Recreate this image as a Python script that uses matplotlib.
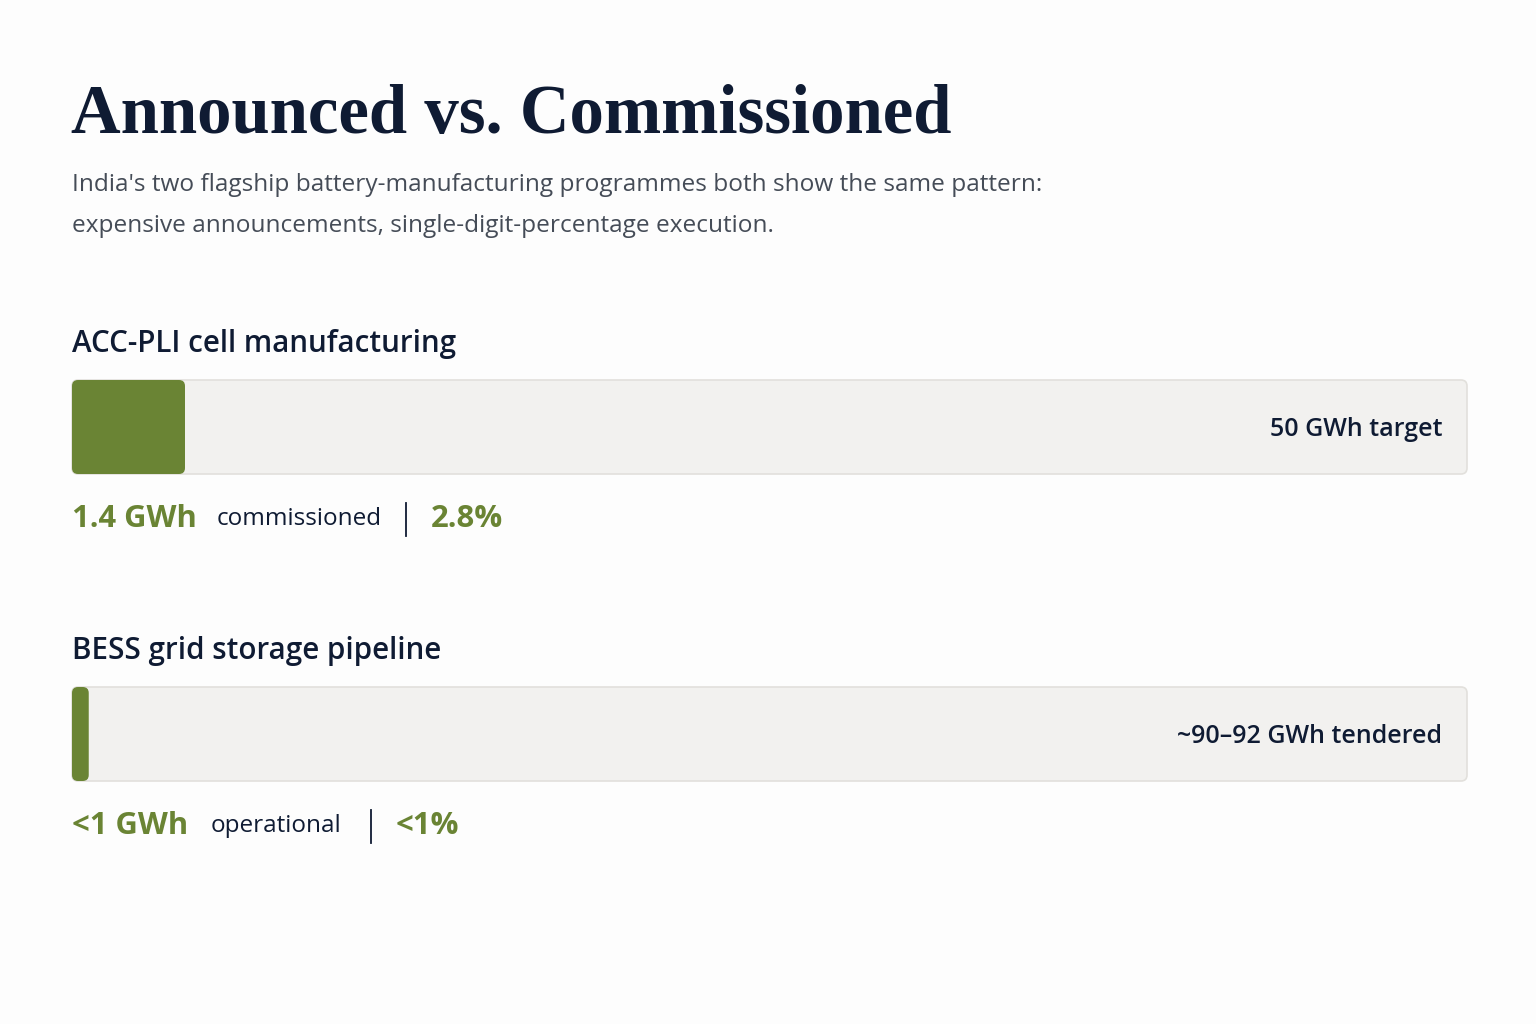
import matplotlib.pyplot as plt
from matplotlib.patches import FancyBboxPatch

# data
programmes = ['ACC-PLI cell manufacturing', 'BESS grid storage pipeline']
target_labels = ['50 GWh target', '~90\u201392 GWh tendered']
actual_labels = ['1.4 GWh', '<1 GWh']
status_words = ['commissioned', 'operational']
share_labels = ['2.8%', '<1%']
fill_shown = [8.1, 1.2]   # bar fill as drawn, % of track

title = 'Announced vs. Commissioned'
subtitle = ["India's two flagship battery-manufacturing programmes both show the same pattern:",
            'expensive announcements, single-digit-percentage execution.']

GREEN = '#6a8434'
NAVY = '#0f1b33'
GREY = '#454c57'
TRACK = '#f2f1ef'
EDGE = '#e2e0dc'

W, H = 1536, 1024
fig = plt.figure(figsize=(W / 100, H / 100), dpi=100)
fig.patch.set_facecolor('#fdfdfd')
bg = fig.add_axes([0, 0, 1, 1])
bg.set_xlim(0, W)
bg.set_ylim(H, 0)
bg.axis('off')

sans = ['Open Sans', 'DejaVu Sans']
bg.text(71, 133, title, fontsize=49.5, fontweight='bold', family=['Liberation Serif', 'DejaVu Serif'],
        color=NAVY, va='baseline')
for i, line in enumerate(subtitle):
    bg.text(72, 185 + 41 * i, line, fontsize=17.6, family=sans, color=GREY, va='center')

x0, x1 = 72, 1467
bar_h = 94
tops = [380, 687]
row_x = [(72, 217, 406, 431), (72, 211, 371, 396)]

for i, name in enumerate(programmes):
    top = tops[i]
    bg.text(72, top - 36, name, fontsize=21.3, fontweight='semibold', family=sans, color=NAVY, va='center')

    ax = fig.add_axes([x0 / W, 1 - (top + bar_h) / H, (x1 - x0) / W, bar_h / H])
    ax.set_xlim(0, 100)
    ax.set_ylim(0, 1)
    ax.axis('off')
    asp = (1 / bar_h) / (100 / (x1 - x0))
    r = 6 * 100 / (x1 - x0)
    ax.add_patch(FancyBboxPatch((0, 0), 100, 1, boxstyle=f'round,pad=0,rounding_size={r}',
                                mutation_aspect=asp, facecolor=TRACK, edgecolor=EDGE, lw=1.2,
                                clip_on=False))
    ax.add_patch(FancyBboxPatch((0, 0), fill_shown[i], 1, boxstyle=f'round,pad=0,rounding_size={r}',
                                mutation_aspect=asp, facecolor=GREEN, edgecolor='none', clip_on=False))
    ax.text(100 - 25 * 100 / (x1 - x0), 0.47, target_labels[i], fontsize=18, fontweight='semibold',
            family=sans, color=NAVY, ha='right', va='center')

    y = top + bar_h + 45
    ax_, aw, sep, ap = row_x[i]
    bg.text(ax_, y, actual_labels[i], fontsize=22.3, fontweight='bold', family=sans, color=GREEN, va='center')
    bg.text(aw, y, status_words[i], fontsize=17.5, family=sans, color=NAVY, va='center')
    bg.plot([sep, sep], [y - 16, y + 17], color=NAVY, lw=1.3)
    bg.text(ap, y, share_labels[i], fontsize=22.3, fontweight='bold', family=sans, color=GREEN, va='center')

fig.savefig('out.png', dpi=100, facecolor=fig.get_facecolor())
